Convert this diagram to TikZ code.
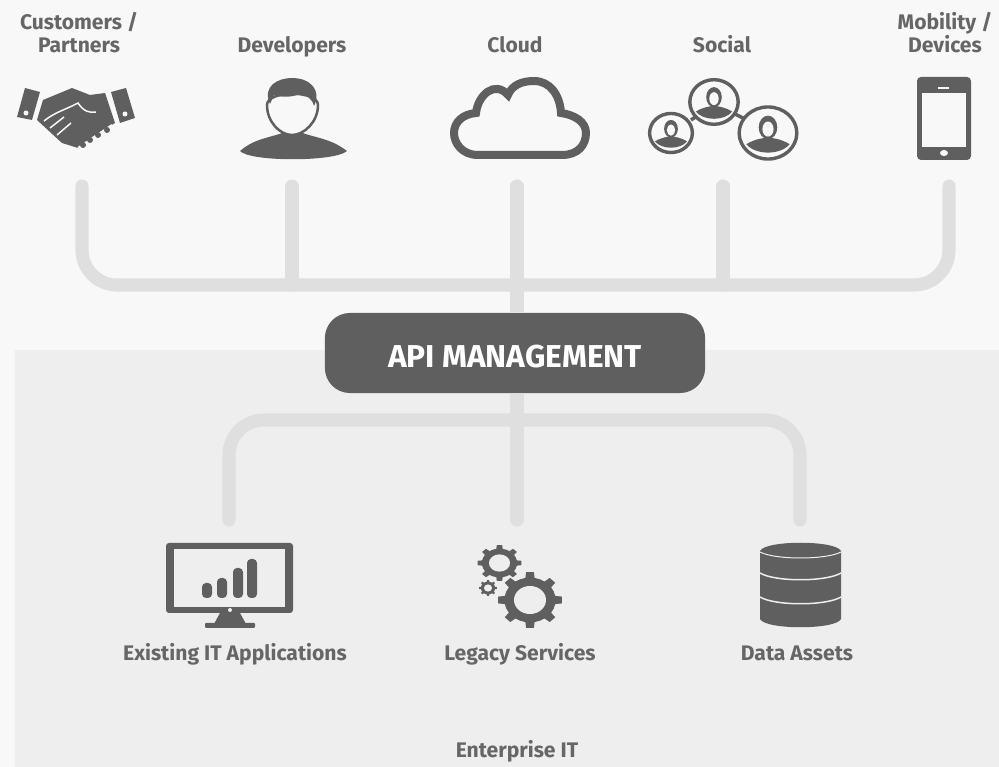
\documentclass[tikz,border=0pt]{standalone}
\usepackage{fontspec}
\setmainfont{Fira Sans}

\definecolor{pagebg}{HTML}{F8F8F8}
\definecolor{panelbg}{HTML}{EEEEEE}
\definecolor{wirecol}{HTML}{DFDFDF}
\definecolor{iconcol}{HTML}{5F5F5F}
\definecolor{textcol}{HTML}{666666}

% gear: x, y, radius x, radius y, hole size
\newcommand{\gearicon}[5]{
  \begin{scope}[shift={(#1,#2)}, xscale=#3, yscale=#4]
    \fill[iconcol] (0,0) circle (0.8);
    \foreach \a in {0,45,...,315}
      \fill[iconcol] (\a-13:0.7) -- (\a-7:1) -- (\a+7:1) -- (\a+13:0.7) -- cycle;
    \fill[panelbg] (0,0) circle (#5);
  \end{scope}
}

% round portrait: x, y, radius x, radius y
\newcommand{\socialface}[4]{
  \begin{scope}[shift={(#1,#2)}, xscale=#3, yscale=#4]
    \draw[iconcol, line width=0.034cm, fill=pagebg] (0,0) circle (0.93);
    \fill[iconcol] (0,-0.2) ellipse (0.3 and 0.42);
    \fill[pagebg] (0,-0.14) ellipse (0.18 and 0.27);
    \fill[iconcol] (-0.7,0.4) .. controls (-0.4,0.2) and (-0.2,0.2) .. (0,0.15)
      .. controls (0.2,0.2) and (0.4,0.2) .. (0.7,0.4)
      .. controls (0.4,0.8) and (-0.4,0.8) .. (-0.7,0.4) -- cycle;
  \end{scope}
}

\begin{document}
\begin{tikzpicture}[x=0.01cm, y=-0.01cm,
    wire/.style={wirecol, line width=0.13cm, line cap=round},
    caption/.style={font=\bfseries\fontsize{6}{6.5}\selectfont, text=textcol, align=center, inner sep=0pt, anchor=base},
    icon/.style={fill=iconcol, draw=none},
    apibox/.style={fill=iconcol, rounded corners=0.25cm, minimum width=3.8cm, minimum height=0.8cm,
        text=white, text height=8.4pt, text depth=0pt, font=\bfseries\fontsize{9}{10}\selectfont}
]

% Background and lower panel
\fill[pagebg] (0,0) rectangle (999,767);
\fill[panelbg] (15,350) rectangle (999,767);
\useasboundingbox (0,0) rectangle (999,767);

% Define coordinates for the connector ends
\coordinate (customers) at (82,186);
\coordinate (developers) at (292,186);
\coordinate (cloud) at (517,186);
\coordinate (social) at (723,186);
\coordinate (mobility) at (949,186);
\coordinate (bus) at (517,285);
\coordinate (applications) at (229,520);
\coordinate (legacy) at (517,520);
\coordinate (assets) at (800,520);
\coordinate (backbone) at (517,420);

% Central box
\node[apibox] (api) at (515,353) {API MANAGEMENT};

% Draw the connectors
\draw[wire, rounded corners=0.35cm] (customers) |- (bus) -| (mobility);
\draw[wire] (developers) -- (developers |- bus);
\draw[wire] (social) -- (social |- bus);
\draw[wire] (cloud) -- (bus);
\draw[wire, rounded corners=0.35cm] (applications) |- (backbone) -| (assets);
\draw[wire] (backbone) -- (legacy);
\draw[wire, line cap=butt] (bus) -- (api.north -| bus);
\draw[wire, line cap=butt] (api.south -| backbone) -- (backbone);

% Labels
\node[caption] (customerstext) at (79,30) {Customers /};
\node[caption] (partnerstext) at (79,53) {Partners};
\node[caption] (developerstext) at (292,53) {Developers};
\node[caption] (cloudtext) at (515,53) {Cloud};
\node[caption] (socialtext) at (722,53) {Social};
\node[caption] (mobilitytext) at (945,30) {Mobility /};
\node[caption] (devicestext) at (945,53) {Devices};
\node[caption] (applicationstext) at (235,661) {Existing IT Applications};
\node[caption] (legacytext) at (520,661) {Legacy Services};
\node[caption] (assetstext) at (797,661) {Data Assets};
\node[caption] (enterprisetext) at (517,758) {Enterprise IT};

% Handshake
\fill[icon] (25,88) -- (40,92) -- (32,120) -- (17,117) -- cycle;
\fill[icon] (111,92) -- (126,88) -- (135,118) -- (120,123) -- cycle;
\fill[pagebg] (26,113) circle (2.5);
\fill[pagebg] (125,114) circle (2.5);
\fill[icon] (43,100) -- (72,88) -- (90,95) -- (105,93) -- (115,123) -- (95,135) -- (78,148) -- (62,143) -- (37,120) -- cycle;
\draw[pagebg, line width=0.015cm] (44,121) .. controls (55,112) and (65,110) .. (78,103) .. controls (84,112) and (90,113) .. (96,112);
\draw[pagebg, line width=0.015cm] (50,128) -- (64,117);
\draw[pagebg, line width=0.015cm] (57,135) -- (71,123);
\draw[pagebg, line width=0.02cm] (78,148) -- (112,125);
\foreach \fx/\fy in {83/145, 90/140, 98/135, 107/130}
  \fill[icon] (\fx,\fy) circle (3);

% Developer
\fill[icon] (240,151) .. controls (255,138) and (270,138) .. (285,132) -- (300,132)
  .. controls (315,138) and (330,138) .. (347,151) .. controls (335,162) and (250,162) .. (240,151) -- cycle;
\draw[iconcol, line width=0.025cm, fill=pagebg] (267,105) .. controls (267,122) and (280,135) .. (292,135)
  .. controls (304,135) and (318,122) .. (318,105) .. controls (318,90) and (267,90) .. (267,105) -- cycle;
\fill[icon] (270,104) .. controls (262,86) and (278,78) .. (292,78) .. controls (310,78) and (322,90) .. (314,106)
  .. controls (312,98) and (306,95) .. (300,94) .. controls (290,98) and (280,97) .. (274,95) -- cycle;

% Cloud
\draw[iconcol, line width=0.08cm, fill=pagebg] (478,155) .. controls (462,155) and (454,143) .. (454,133)
  .. controls (454,122) and (463,114) .. (476,113) .. controls (478,95) and (495,80) .. (508,95)
  .. controls (512,85) and (522,81) .. (534,81) .. controls (550,81) and (560,95) .. (561,113)
  .. controls (575,115) and (586,122) .. (586,133) .. controls (586,145) and (578,155) .. (562,155) -- cycle;

% Social
\draw[iconcol, line width=0.035cm] (691,120) -- (697,116);
\draw[iconcol, line width=0.035cm] (735,114) -- (745,119);
\socialface{714}{102}{26}{24}
\socialface{671}{133}{23}{21}
\socialface{768}{133}{31}{28}

% Phone
\fill[icon, rounded corners=0.04cm] (917,77) rectangle (971,160);
\fill[pagebg] (922,93) rectangle (966,147);
\fill[pagebg] (938,87.5) rectangle (949,89);
\fill[pagebg] (944,153) ellipse (4 and 3);

% Monitor
\fill[icon, rounded corners=0.03cm] (166,543) rectangle (293,613);
\fill[panelbg] (174,549) rectangle (285,607);
\fill[panelbg] (230,610) circle (2);
\fill[icon] (220,613) -- (240,613) -- (246,624) -- (214,624) -- cycle;
\fill[icon, rounded corners=0.01cm] (205,623) rectangle (255,628);
\foreach \bx/\by in {207/583, 222/578, 238/568, 252/559}
  \fill[icon, rounded corners=0.04cm] (\bx-5,\by) rectangle (\bx+5,598);

% Gears
\gearicon{530}{600}{32}{28}{0.5}
\gearicon{499.5}{563}{22}{18}{0.48}
\gearicon{488}{588}{9}{8}{0.45}

% Database
\fill[icon] (760,551) -- (760,619) .. controls (765,630) and (836,630) .. (841,619) -- (841,551)
  .. controls (836,540) and (765,540) .. (760,551) -- cycle;
\draw[panelbg, line width=0.01cm] (760,552) .. controls (775,560) and (826,560) .. (841,552);
\draw[panelbg, line width=0.015cm] (760,573) .. controls (775,582) and (826,582) .. (841,573);
\draw[panelbg, line width=0.015cm] (760,597) .. controls (775,606) and (826,606) .. (841,597);

\end{tikzpicture}
\end{document}
